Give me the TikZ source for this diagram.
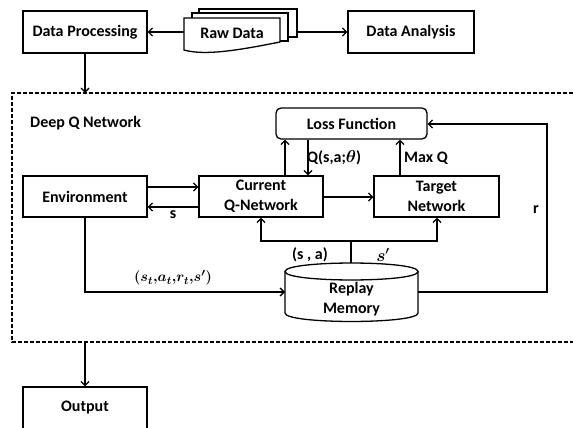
\documentclass[tikz,border=0pt]{standalone}
\usepackage{fontspec}
\setmainfont{Carlito}
\usetikzlibrary{arrows.meta}
\tikzset{
  txt/.style={font=\fontsize{16}{20}\selectfont\bfseries, inner sep=0pt, align=center},
  box/.style={txt, draw, line width=1.3pt, fill=white},
  arr/.style={line width=1.4pt, -{Straight Barb[length=4pt,width=8pt,line width=1.3pt]}},
  wire/.style={line width=1.4pt},
  frame/.style={line width=1.3pt, dash pattern=on 4pt off 2pt},
}
\newcommand{\bmath}[1]{{\boldmath$#1$}}
\begin{document}
\begin{tikzpicture}[x=1pt, y=-1pt]
\useasboundingbox (0,0) rectangle (573,428);
\clip (0,0) rectangle (573,428);

% top row
\node[box, minimum width=124pt, minimum height=42pt] (dp) at (85,32) {Data Processing};
\node[box, minimum width=126pt, minimum height=42pt] (da) at (411,32) {Data Analysis};

% stacked raw-data sheets
\draw[line width=1.3pt, fill=white] (199,9) rectangle (297,37);
\draw[line width=1.3pt, fill=white] (192,13) rectangle (288,41);
\draw[line width=1.3pt, fill=white] (184,18) -- (280,18) -- (280,42)
  .. controls (240,50) and (205,56) .. (184,50) -- cycle;
\node[txt] (raw) at (232,33) {Raw Data};
\coordinate (rawL) at (184,32);
\coordinate (rawR) at (297,32);

\draw[arr] (rawL) -- (dp.east |- rawL);
\draw[arr] (rawR) -- (da.west |- rawR);

% Deep Q Network frame
\coordinate (frameTop) at (85,93);
\coordinate (frameBot) at (85,342);
\draw[frame] (585,93) -- (12,93) -- (12,342) -- (585,342);
\draw[arr] (dp.south) -- (frameTop);
\node[txt, anchor=west] (dqn) at (30,123) {Deep Q Network};

% inner blocks
\node[box, minimum width=151pt, minimum height=31pt, rounded corners=5pt] (loss) at (351.5,123.5) {Loss Function};
\node[box, minimum width=124pt, minimum height=41pt] (env) at (85,196.5) {Environment};
\node[box, minimum width=124pt, minimum height=41pt] (cur) at (261,196.5) {Current\\Q-Network};
\node[box, minimum width=125pt, minimum height=41pt] (tgt) at (436.5,196.5) {Target\\Network};

% replay memory cylinder
\draw[line width=1.3pt, fill=white] (285,271.5) -- (285,313)
  .. controls (285,324.3) and (418,324.3) .. (418,313) -- (418,271.5);
\draw[line width=1.3pt, fill=white] (285,271.5)
  .. controls (285,282.8) and (418,282.8) .. (418,271.5)
  .. controls (418,260.2) and (285,260.2) .. (285,271.5) -- cycle;
\node[txt] (mem) at (351.5,299) {Replay\\Memory};
\coordinate (memTop) at (351,263);
\coordinate (memL) at (285,292);
\coordinate (memR) at (418,292);

% environment <-> current network
\draw[arr] (env.east |- 0,187) -- (cur.west |- 0,187);
\draw[arr] (cur.west |- 0,207) -- node[txt, below=3pt] (lbls) {s} (env.east |- 0,207);
\draw[arr] (cur.east |- 0,197) -- (tgt.west |- 0,197);

% networks -> loss
\draw[arr] (cur.north -| 285,0) -- (loss.south -| 285,0);
\draw[arr] (loss.south -| 308,0) -- (cur.north -| 308,0);
\node[txt, anchor=west] (lblq) at (307,158) {Q(s,a;\bmath{\theta})};
\draw[arr] (tgt.north -| 400,0) -- (loss.south -| 400,0);
\node[txt, anchor=west] (lblmax) at (404,158) {Max Q};

% reward loop
\coordinate (rA) at (547,292);
\coordinate (rB) at (547,124);
\draw[arr] (memR) -- (rA) -- (rB) -- (loss.east |- rB);
\node[txt] (lblr) at (536,210) {r};

% transitions into replay memory
\coordinate (envC) at (85,292);
\draw[arr] (env.south) -- (envC) -- (memL);
\node[txt, font=\fontsize{15}{18}\selectfont] (lbltr) at (173,278)
  {\bmath{(s_t{,}a_t{,}r_t{,}s^{\prime})}};

% samples from replay memory
\coordinate (bus) at (351,241);
\coordinate (busL) at (261,241);
\coordinate (busR) at (437,241);
\draw[wire] (memTop) -- (bus);
\draw[arr] (bus) -- (busL) -- (cur.south -| busL);
\draw[arr] (bus) -- (busR) -- (tgt.south -| busR);
\node[txt] (lblsa) at (310,255) {(s , a)};
\node[txt] (lblsp) at (383,255) {\bmath{s^{\prime}}};

% output
\node[box, minimum width=124pt, minimum height=42pt] (out) at (85,408) {Output};
\draw[arr] (frameBot) -- (out.north);
\end{tikzpicture}
\end{document}
